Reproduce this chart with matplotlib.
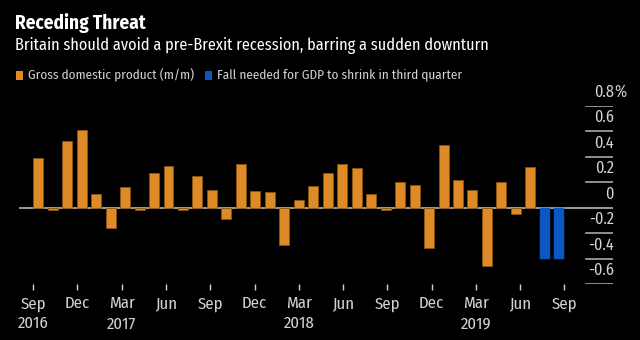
import matplotlib
matplotlib.use("Agg")
import matplotlib.pyplot as plt
from matplotlib.patches import Rectangle
from matplotlib import font_manager as fm
import matplotlib.transforms as mtransforms

# ---------------- data ----------------
months = ["Sep 2016", "Oct 2016", "Nov 2016", "Dec 2016", "Jan 2017", "Feb 2017", "Mar 2017",
          "Apr 2017", "May 2017", "Jun 2017", "Jul 2017", "Aug 2017", "Sep 2017", "Oct 2017",
          "Nov 2017", "Dec 2017", "Jan 2018", "Feb 2018", "Mar 2018", "Apr 2018", "May 2018",
          "Jun 2018", "Jul 2018", "Aug 2018", "Sep 2018", "Oct 2018", "Nov 2018", "Dec 2018",
          "Jan 2019", "Feb 2019", "Mar 2019", "Apr 2019", "May 2019", "Jun 2019", "Jul 2019"]
gdp = [0.39, -0.02, 0.52, 0.61, 0.11, -0.16, 0.165, -0.02, 0.27, 0.33, -0.02, 0.25, 0.14, -0.09,
       0.345, 0.13, 0.12, -0.29, 0.06, 0.17, 0.27, 0.345, 0.31, 0.11, -0.02, 0.20, 0.18, -0.32,
       0.49, 0.22, 0.14, -0.46, 0.20, -0.05, 0.32]
fall_months = ["Aug 2019", "Sep 2019"]
fall_needed = [-0.40, -0.40]
x_tick_labels = ["Sep\n2016", "Dec", "Mar\n2017", "Jun", "Sep", "Dec", "Mar\n2018", "Jun",
                 "Sep", "Dec", "Mar\n2019", "Jun", "Sep"]
y_ticks = [0.8, 0.6, 0.4, 0.2, 0.0, -0.2, -0.4, -0.6]
title = "Receding Threat"
subtitle = "Britain should avoid a pre-Brexit recession, barring a sudden downturn"
legend_labels = ["Gross domestic product (m/m)", "Fall needed for GDP to shrink in third quarter"]

# ---------------- style ----------------
names = {f.name for f in fm.fontManager.ttflist}
FONT = "DejaVu Sans"
for cand in ["Fira Sans Condensed", "Roboto Condensed", "PT Sans Narrow", "Asap Condensed",
             "Archivo Narrow", "Liberation Sans Narrow"]:
    if cand in names:
        FONT = cand
        break
plt.rcParams["font.family"] = [FONT, "DejaVu Sans"]

BG = "black"
ORANGE = "#DE8A26"
BLUE = "#0A57C2"
TXT = "#d2d2d2"
GRID = "#a8a8a8"

fig = plt.figure(figsize=(6.4, 3.4), dpi=100, facecolor=BG)
renderer = fig.canvas.get_renderer()


def fit(t, target_px):
    """Scale a text's font size so its rendered width matches target_px."""
    wpx = t.get_window_extent(renderer=renderer).width
    if wpx > 0:
        t.set_fontsize(t.get_fontsize() * target_px / wpx)
    return t


ax = fig.add_axes([0.0292, 0.1647, 0.9284, 0.5244])
ax.set_facecolor(BG)

n = len(gdp)
x_or = list(range(n))
x_bl = list(range(n, n + len(fall_needed)))
w = 0.69

ax.axhline(0, color=GRID, lw=1.3, zorder=1)
ax.bar(x_or, gdp, width=w, color=ORANGE, edgecolor="#8a5512", linewidth=0.6, zorder=2)
ax.bar(x_bl, fall_needed, width=w, color=BLUE, edgecolor=BLUE, linewidth=0.3, zorder=2)

ax.set_xlim(-1.35, 39.7)
ax.set_ylim(-0.6, 0.8)

# right-side grid segments and labels
for y in y_ticks:
    if y != 0:
        ax.axhline(y, xmin=0.9545, xmax=1.0, color=GRID, lw=1.2, zorder=1)
trans = mtransforms.blended_transform_factory(ax.transAxes, ax.transData)
off = mtransforms.offset_copy(trans, fig=fig, x=0, y=9.8, units="points")
ysize = None
for y in y_ticks:
    lab = "0" if y == 0 else f"{y:.1f}"
    t = ax.text(1.0017, y, lab, transform=off, ha="right", va="center",
                color=TXT, fontsize=10, clip_on=False)
    if ysize is None:
        fit(t, 20)
        ysize = t.get_fontsize()
    t.set_fontsize(ysize)
    if y == max(y_ticks):
        ax.text(1.0017, y, "%", transform=off, ha="left", va="center",
                color=TXT, fontsize=ysize, clip_on=False)

# x ticks
last = n + len(fall_needed) - 1
tick_pos = [(-w / 2) + k * ((last + w) / (len(x_tick_labels) - 1)) for k in range(len(x_tick_labels))]
probe = fig.text(0, 0, "2016", fontsize=10)
fit(probe, 31)
xsize = probe.get_fontsize()
probe.remove()
ax.set_xticks(tick_pos)
ax.set_xticklabels(x_tick_labels, color=TXT, fontsize=xsize, linespacing=1.3)
ax.tick_params(axis="x", colors=TXT, length=4.5, width=1.0, pad=4, labelcolor=TXT)
ax.set_yticks([])
for s in ax.spines.values():
    s.set_visible(False)

# title, subtitle
t1 = fig.text(15 / 640, 1 - 29 / 340, title, color="white", fontsize=14,
              fontweight="bold", ha="left", va="baseline")
fit(t1, 131)
t2 = fig.text(15 / 640, 1 - 50 / 340, subtitle, color="white", fontsize=13.5,
              ha="left", va="baseline")
fit(t2, 474)

# legend (manual: square + text)
leg_y = 1 - 75 / 340
sq_w, sq_h = 7 / 640, 9 / 340
for x0, tx, label, color, tw in [(16, 28, legend_labels[0], ORANGE, 166),
                                  (205, 217, legend_labels[1], BLUE, 244)]:
    fig.add_artist(Rectangle((x0 / 640, leg_y - sq_h / 2), sq_w, sq_h,
                             transform=fig.transFigure, facecolor=color, edgecolor="none"))
    tl = fig.text(tx / 640, leg_y, label, color=TXT, fontsize=10.5, ha="left", va="center")
    fit(tl, tw)

fig.savefig("out.png", dpi=100, facecolor=BG)
